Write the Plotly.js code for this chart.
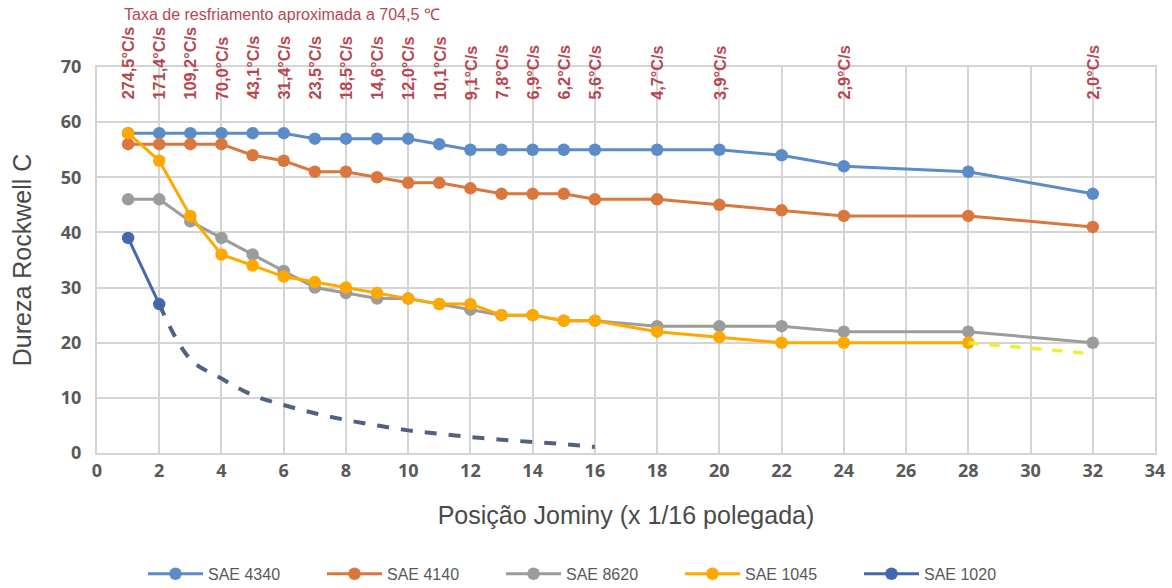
<!DOCTYPE html>
<html>
<head>
<meta charset="utf-8">
<script src="https://cdn.plot.ly/plotly-3.0.1.min.js"></script>
<style>html,body{margin:0;padding:0;background:#fff;}#chart{width:1172px;height:588px;}</style>
</head>
<body>
<div id="chart"></div>
<script>
// Jominy positions (x 1/16 in)
const positions = [1,2,3,4,5,6,7,8,9,10,11,12,13,14,15,16,18,20,22,24,28,32];
const sae4340 = [58,58,58,58,58,58,57,57,57,57,56,55,55,55,55,55,55,55,54,52,51,47];
const sae4140 = [56,56,56,56,54,53,51,51,50,49,49,48,47,47,47,46,46,45,44,43,43,41];
const sae8620 = [46,46,42,39,36,33,30,29,28,28,27,26,25,25,24,24,23,23,23,22,22,20];
const pos1045 = [1,2,3,4,5,6,7,8,9,10,11,12,13,14,15,16,18,20,22,24,28];
const sae1045 = [58,53,43,36,34,32,31,30,29,28,27,27,25,25,24,24,22,21,20,20,20];
const pos1045Ext = [28,32];
const sae1045Ext = [20,18];
const pos1020 = [1,2];
const sae1020 = [39,27];
const pos1020Ext = [2,3,4,5,6,7,8,9,10,11,12,13,14,15,16];
const sae1020Ext = [27,17,13.5,10.5,8.7,7.2,6,5,4.1,3.5,2.9,2.4,2,1.6,1.1];
// cooling rates at 704.5 °C
const ratePos = [1,2,3,4,5,6,7,8,9,10,11,12,13,14,15,16,18,20,24,32];
const rateLabels = ["274,5°C/s","171,4°C/s","109,2°C/s","70,0°C/s","43,1°C/s","31,4°C/s","23,5°C/s","18,5°C/s","14,6°C/s","12,0°C/s","10,1°C/s","9,1°C/s","7,8°C/s","6,9°C/s","6,2°C/s","5,6°C/s","4,7°C/s","3,9°C/s","2,9°C/s","2,0°C/s"];
const rateTitle = "Taxa de resfriamento aproximada a 704,5 ℃";

const C4340 = "#5B8CC8", C4140 = "#D9773F", C8620 = "#9C9C9C", C1045 = "#FFA800", C1020 = "#4468B0";

function series(x, y, name, color) {
  return {x: x, y: y, name: name, type: "scatter", mode: "lines+markers",
    line: {color: color, width: 3}, marker: {color: color, size: 12.5}};
}
const traces = [
  series(positions, sae4340, "SAE 4340", C4340),
  series(positions, sae4140, "SAE 4140", C4140),
  series(positions, sae8620, "SAE 8620", C8620),
  series(pos1045, sae1045, "SAE 1045", C1045),
  series(pos1020, sae1020, "SAE 1020", C1020),
  {x: pos1045Ext, y: sae1045Ext, type: "scatter", mode: "lines", showlegend: false,
   line: {color: "#EFEF3A", width: 3.5, dash: "dash"}},
  {x: pos1020Ext, y: sae1020Ext, type: "scatter", mode: "lines", showlegend: false,
   line: {color: "#4F6282", width: 4, dash: "dash", shape: "spline"}}
];

const redFont = "Liberation Sans, Arial, sans-serif";
const annotations = ratePos.map((p, i) => ({
  x: p, xref: "x", y: 63.7, yref: "y", text: "<b>" + rateLabels[i] + "</b>", textangle: -90,
  showarrow: false, xanchor: "center", yanchor: "bottom",
  font: {family: redFont, size: 16.3, color: "#B8464F"}
}));
annotations.push({
  x: (122-97)/1058, xref: "paper", y: 1.137, yref: "paper", text: rateTitle, showarrow: false,
  xanchor: "left", yanchor: "middle",
  font: {family: redFont, size: 16, color: "#B8464F"}
});

const gridC = "#D4D4D4";
const tickFont = {family: "Open Sans, Liberation Sans, sans-serif", size: 18, color: "#595959", weight: "bold"};
const titleFont = {family: "Liberation Sans, sans-serif", size: 25, color: "#4A4A4A"};
const layout = {
  width: 1172, height: 588,
  margin: {l: 97, r: 17, t: 67, b: 135, autoexpand: false},
  paper_bgcolor: "#fff", plot_bgcolor: "#fff",
  showlegend: true,
  legend: {orientation: "h", x: (143-97)/1058, xanchor: "left", y: -0.313, yanchor: "middle",
    itemwidth: 55, entrywidth: 109,
    font: {family: "Liberation Sans, sans-serif", size: 16, color: "#595959"}},
  xaxis: {range: [0, 34], dtick: 2, tick0: 0, showgrid: true, gridcolor: gridC, gridwidth: 2,
    zeroline: false, showline: true, linecolor: gridC, linewidth: 2, mirror: true,
    ticks: "", tickfont: tickFont, automargin: false,
    title: {text: "Posição Jominy (x 1/16 polegada)", standoff: 26, font: titleFont}},
  yaxis: {range: [0, 70], dtick: 10, showgrid: true, gridcolor: gridC, gridwidth: 2,
    zeroline: false, showline: true, linecolor: gridC, linewidth: 2, mirror: true,
    ticks: "", ticklabelstandoff: 10, tickfont: tickFont, automargin: false,
    title: {text: "Dureza Rockwell C", standoff: 22, font: titleFont}},
  annotations: annotations
};
Plotly.newPlot("chart", traces, layout, {displayModeBar: false, staticPlot: true});
</script>
</body>
</html>
